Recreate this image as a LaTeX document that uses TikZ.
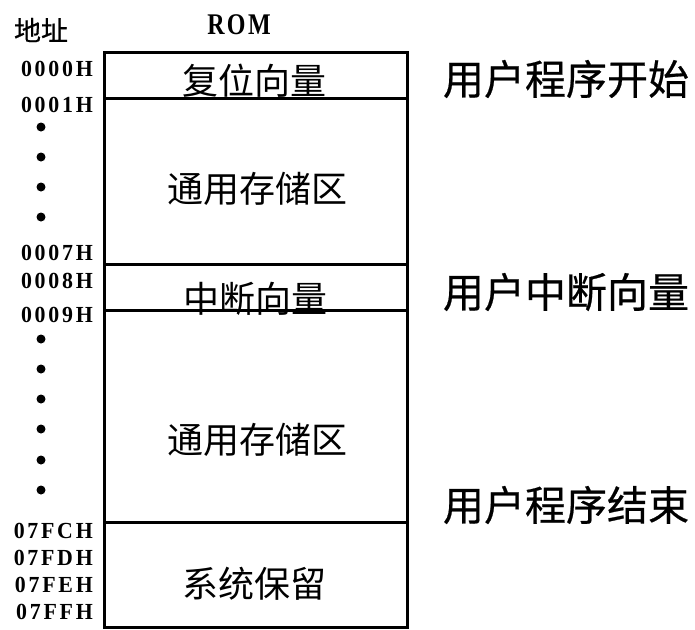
\documentclass[tikz,border=0pt]{standalone}
\usepackage{fontspec}
\newfontfamily\cjk{Noto Sans CJK SC}
\newfontfamily\cjkb[FakeBold=0.5]{Noto Sans CJK SC}
\newfontfamily\addrfont[LetterSpace=12,FakeStretch=0.95]{Liberation Serif}
\newfontfamily\romfont[FakeStretch=0.8,LetterSpace=8]{Liberation Serif}
\begin{document}
\begin{tikzpicture}[x=1pt,y=-1pt,
  seg/.style={draw=black,line width=3pt},
  addr/.style={anchor=east,inner sep=0pt,font=\addrfont\bfseries\fontsize{23}{23}\selectfont},
  mid/.style={inner sep=0pt,font=\cjk\fontsize{36}{36}\selectfont},
  side/.style={inner sep=0pt,font=\cjkb\fontsize{41}{41}\selectfont},
  dotmark/.style={circle,fill=black,inner sep=0pt,minimum size=9pt}]
\useasboundingbox (0,0) rectangle (695,629);
% memory blocks
\draw[seg] (104,52) rectangle (407,98);
\draw[seg] (104,98) rectangle (407,264);
\draw[seg] (104,264) rectangle (407,310);
\draw[seg] (104,310) rectangle (407,522);
\draw[seg] (104,522) rectangle (407,627);
% headings
\node[inner sep=0pt,font=\cjkb\fontsize{27}{27}\selectfont] (dz) at (41,30) {地址};
\node[inner sep=0pt,font=\romfont\bfseries\fontsize{30}{30}\selectfont] (rom) at (239,25) {ROM};
% block texts
\node[mid] (t1) at (254,81) {复位向量};
\node[mid] (t2) at (257,189) {通用存储区};
\node[mid] (t3) at (255,299) {中断向量};
\node[mid] (t4) at (257,440) {通用存储区};
\node[mid] (t5) at (254,584) {系统保留};
% addresses
\node[addr] (a1) at (93,69) {0000H};
\node[addr] (a2) at (93,105) {0001H};
\node[addr] (a3) at (93,253) {0007H};
\node[addr] (a4) at (93,281) {0008H};
\node[addr] (a5) at (93,315) {0009H};
\node[addr] (a6) at (93,531) {07FCH};
\node[addr] (a7) at (93,558) {07FDH};
\node[addr] (a8) at (93,585) {07FEH};
\node[addr] (a9) at (93,612) {07FFH};
% dots
\foreach \yy [count=\i] in {127,157,187,217,339,369,399,429,460,490}
  \node[dotmark] (d\i) at (41,\yy) {};
% side labels
\node[side] (s1) at (566,79) {用户程序开始};
\node[side] (s2) at (566,292) {用户中断向量};
\node[side] (s3) at (566,505) {用户程序结束};
\end{tikzpicture}
\end{document}
